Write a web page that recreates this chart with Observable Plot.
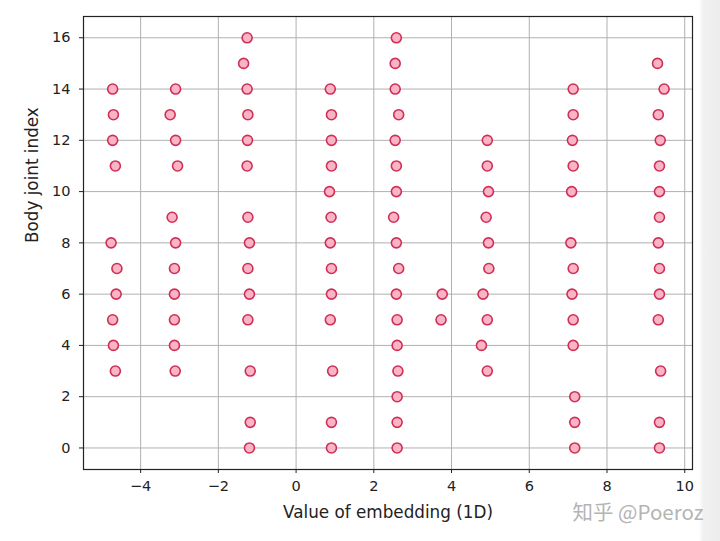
<!DOCTYPE html>
<html>
<head>
<meta charset="utf-8">
<script src="https://cdn.jsdelivr.net/npm/d3@7"></script>
<script src="https://cdn.jsdelivr.net/npm/@observablehq/plot@0.6"></script>
<style>
  html, body { margin: 0; padding: 0; background: linear-gradient(to right, #ffffff 0px, #ffffff 699px, #f1f1f1 703px, #ececec 720px); width: 720px; height: 541px; overflow: hidden; }
  #chart svg { display: block; background: transparent !important; }
</style>
</head>
<body>
<div id="chart"></div>
<script>
// Body joint index (y) and 1D embedding value (x), grouped by cluster column
const jointsA = [14, 13, 12, 11, 8, 7, 6, 5, 4, 3];
const embA    = [-4.72, -4.70, -4.72, -4.65, -4.76, -4.61, -4.63, -4.72, -4.70, -4.65];
const jointsB = [14, 13, 12, 11, 9, 8, 7, 6, 5, 4, 3];
const embB    = [-3.10, -3.24, -3.10, -3.05, -3.19, -3.10, -3.13, -3.13, -3.13, -3.13, -3.11];
const jointsC = [16, 15, 14, 13, 12, 11, 9, 8, 7, 6, 5, 3, 1, 0];
const embC    = [-1.26, -1.35, -1.26, -1.24, -1.25, -1.26, -1.24, -1.20, -1.24, -1.20, -1.24, -1.18, -1.18, -1.20];
const jointsD = [14, 13, 12, 11, 10, 9, 8, 7, 6, 5, 3, 1, 0];
const embD    = [0.88, 0.91, 0.91, 0.91, 0.86, 0.90, 0.88, 0.91, 0.91, 0.88, 0.94, 0.91, 0.91];
const jointsE = [16, 15, 14, 13, 12, 11, 10, 9, 8, 7, 6, 5, 4, 3, 2, 1, 0];
const embE    = [2.58, 2.55, 2.55, 2.64, 2.55, 2.58, 2.58, 2.51, 2.58, 2.64, 2.58, 2.60, 2.60, 2.62, 2.60, 2.60, 2.60];
const jointsF = [6, 5];
const embF    = [3.76, 3.73];
const jointsG = [12, 11, 10, 9, 8, 7, 6, 5, 4, 3];
const embG    = [4.92, 4.92, 4.95, 4.89, 4.95, 4.96, 4.81, 4.92, 4.77, 4.92];
const jointsH = [14, 13, 12, 11, 10, 8, 7, 6, 5, 4, 2, 1, 0];
const embH    = [7.13, 7.13, 7.11, 7.13, 7.09, 7.07, 7.13, 7.10, 7.13, 7.13, 7.17, 7.17, 7.17];
const jointsI = [15, 14, 13, 12, 11, 10, 9, 8, 7, 6, 5, 3, 1, 0];
const embI    = [9.30, 9.47, 9.32, 9.37, 9.35, 9.35, 9.35, 9.32, 9.35, 9.35, 9.32, 9.38, 9.35, 9.35];

const xTicks = [-4, -2, 0, 2, 4, 6, 8, 10];
const yTicks = [0, 2, 4, 6, 8, 10, 12, 14, 16];
const xLabel = "Value of embedding (1D)";
const yLabel = "Body joint index";
const watermark = "知乎 @Poeroz";

const groups = [
  [jointsA, embA], [jointsB, embB], [jointsC, embC], [jointsD, embD], [jointsE, embE],
  [jointsF, embF], [jointsG, embG], [jointsH, embH], [jointsI, embI]
];
const points = groups.flatMap(([js, es]) => js.map((j, i) => ({joint: j, value: es[i]})));

const fmt = d => d < 0 ? "\u2212" + Math.abs(d) : String(d);

const chart = Plot.plot({
  width: 720,
  height: 541,
  marginLeft: 83,
  marginRight: 28,
  marginTop: 16,
  marginBottom: 72,
  style: {fontFamily: "DejaVu Sans", fontSize: "14.5px", color: "#222", background: "transparent"},
  x: {domain: [-5.47, 10.2]},
  y: {domain: [-0.84, 16.83]},
  marks: [
    Plot.gridX(xTicks, {stroke: "#b0b0b0", strokeOpacity: 1, strokeWidth: 1}),
    Plot.gridY(yTicks, {stroke: "#b0b0b0", strokeOpacity: 1, strokeWidth: 1}),
    Plot.axisX(xTicks, {tickSize: 4, tickPadding: 7, tickFormat: fmt, label: null, fontSize: 14.5, stroke: "#222"}),
    Plot.axisY(yTicks, {tickSize: 4, tickPadding: 9, tickFormat: fmt, label: null, fontSize: 14.5, stroke: "#222"}),
    Plot.frame({stroke: "#222", strokeWidth: 1.2}),
    Plot.dot(points, {x: "value", y: "joint", r: 5, fill: "#fbb4c6", stroke: "#cf2f55", strokeWidth: 1.6}),
    Plot.text([xLabel], {frameAnchor: "bottom", dy: 48, fontSize: 16.8, fill: "#222"}),
    Plot.text([yLabel], {frameAnchor: "left", dx: -51, rotate: -90, fontSize: 16.8, fill: "#222"}),
    Plot.text([watermark], {frameAnchor: "bottom-right", dx: 11, dy: 50, textAnchor: "end", fontSize: 20.5, fill: "#b4b4b4", fontFamily: "Noto Sans CJK SC"})
  ]
});
document.getElementById("chart").appendChild(chart);
</script>
</body>
</html>
